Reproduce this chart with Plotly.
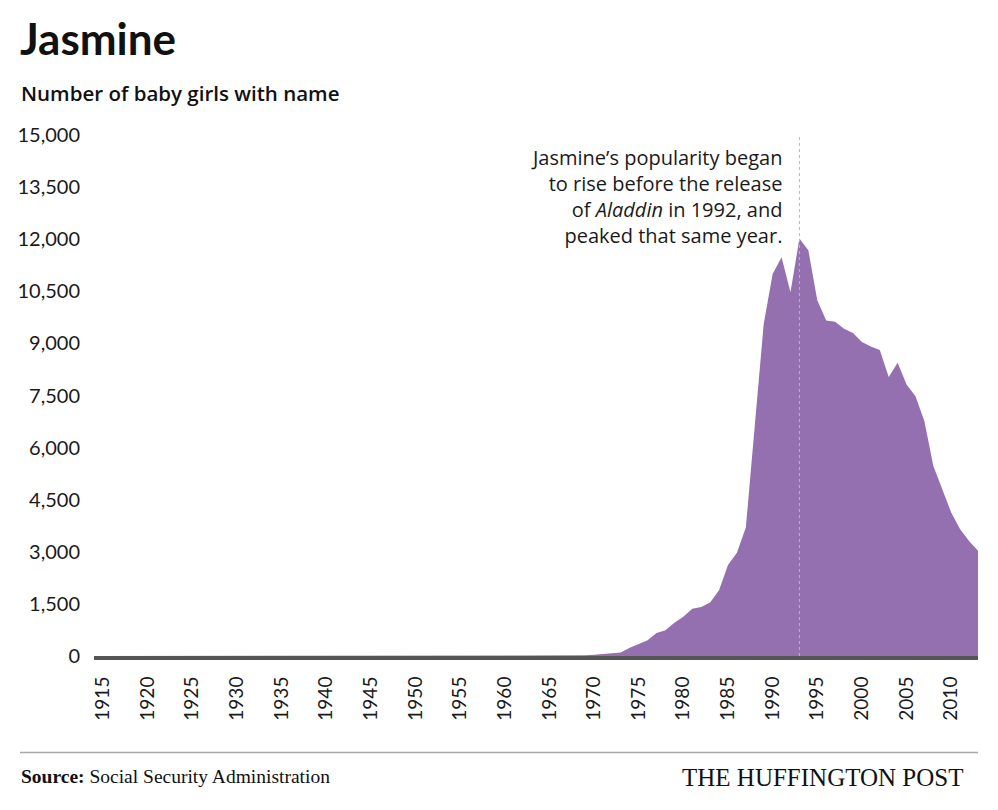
import plotly.graph_objects as go

# ---------------- data ----------------
years = list(range(1914, 2014))
births = [
    0, 0, 0, 0, 0, 0, 0, 0, 0, 0,          # 1914-1923
    0, 0, 0, 0, 0, 0, 0, 0, 0, 0,          # 1924-1933
    0, 0, 0, 0, 0, 0, 0, 0, 0, 0,          # 1934-1943
    0, 0, 0, 0, 0, 0, 5, 0, 0, 5,          # 1944-1953
    5, 6, 5, 7, 6, 8, 7, 9, 10, 8,         # 1954-1963
    9, 10, 12, 11, 15,                      # 1964-1968
    20, 35, 50, 70, 100,                    # 1969-1973
    240, 340, 450, 660, 740,                # 1974-1978
    960, 1130, 1360, 1410, 1543,            # 1979-1983
    1890, 2620, 2970, 3700, 6600,           # 1984-1988
    9560, 11000, 11480, 10470, 12020,       # 1989-1993
    11680, 10240, 9660, 9620, 9420,         # 1994-1998
    9300, 9040, 8910, 8810, 8030,           # 1999-2003
    8440, 7820, 7480, 6760, 5470,           # 2004-2008
    4800, 4130, 3650, 3310, 3030,           # 2009-2013
]
x_ticks = list(range(1915, 2015, 5))
y_ticks = list(range(0, 15001, 1500))
peak_year = 1993

title = "Jasmine"
subtitle = "Number of baby girls with name"
note = ("Jasmine’s popularity began<br>to rise before the release<br>"
        "of <i>Aladdin</i> in 1992, and<br>peaked that same year.")
source = "<b>Source:</b> Social Security Administration"
brand = "THE HUFFINGTON POST"

# ---------------- layout helpers ----------------
W, H = 998, 810
L, R, T, B = 94, 20, 135, 154
PW, PH = W - L - R, H - T - B


def px(x):
    return (x - L) / PW


def py(y):
    return (H - B - y) / PH


SANS = "Lato, 'Open Sans', sans-serif"
WIDE = "'Open Sans', Lato, sans-serif"
SERIF = "'Liberation Serif', 'DejaVu Serif', serif"
PURPLE = "#9570b0"

fig = go.Figure()
fig.add_trace(go.Scatter(
    x=years, y=births, mode="lines", fill="tozeroy",
    fillcolor=PURPLE, line=dict(width=0, color=PURPLE),
    hoverinfo="skip", showlegend=False,
))

fig.add_shape(type="line", xref="x", yref="y", x0=peak_year, x1=peak_year,
              y0=0, y1=15000, layer="above",
              line=dict(color="#b8b8b8", width=1, dash="3px,3px"))

fig.add_shape(type="line", xref="paper", yref="paper",
              x0=px(20), x1=px(978), y0=py(752.5), y1=py(752.5),
              line=dict(color="#a8a8a8", width=1.5))

fig.add_annotation(text=note, xref="x", yref="y", x=peak_year, y=15000,
                   xanchor="right", yanchor="top", xshift=-15, yshift=-7,
                   align="right", showarrow=False,
                   font=dict(family=WIDE, size=20, color="#1a1a1a"))

fig.add_annotation(text=title, xref="paper", yref="paper", x=px(18), y=py(38),
                   xanchor="left", yanchor="middle", showarrow=False,
                   font=dict(family=SANS, size=44, color="#111111", weight="bold"))
fig.add_annotation(text=subtitle, xref="paper", yref="paper", x=px(19), y=py(93),
                   xanchor="left", yanchor="middle", showarrow=False,
                   font=dict(family=WIDE, size=20.5, color="#111111", weight=600))
fig.add_annotation(text=source, xref="paper", yref="paper", x=px(19), y=py(776),
                   xanchor="left", yanchor="middle", showarrow=False,
                   font=dict(family=SERIF, size=19.5, color="#111111"))
fig.add_annotation(text=brand, xref="paper", yref="paper", x=px(966), y=py(777),
                   xanchor="right", yanchor="middle", showarrow=False,
                   font=dict(family=SERIF, size=25, color="#111111"))

fig.update_layout(
    width=W, height=H, autosize=False,
    margin=dict(l=L, r=R, t=T, b=B, pad=0),
    paper_bgcolor="white", plot_bgcolor="white",
    showlegend=False, hovermode=False,
    xaxis=dict(range=[years[0], years[-1]], tickvals=x_ticks,
               ticktext=[str(v) for v in x_ticks], tickangle=-90,
               showgrid=False, zeroline=False, showline=True,
               linecolor="#555555", linewidth=4,
               ticks="outside", ticklen=9, tickcolor="rgba(0,0,0,0)",
               tickfont=dict(family=SANS, size=19, color="#1a1a1a")),
    yaxis=dict(range=[0, 15000], tickvals=y_ticks, tickformat=",d",
               showgrid=False, zeroline=False, showline=False,
               ticks="outside", ticklen=9, tickcolor="rgba(0,0,0,0)",
               tickfont=dict(family=SANS, size=20, color="#1a1a1a")),
)

fig.write_html("out.html", config={"displayModeBar": False})
